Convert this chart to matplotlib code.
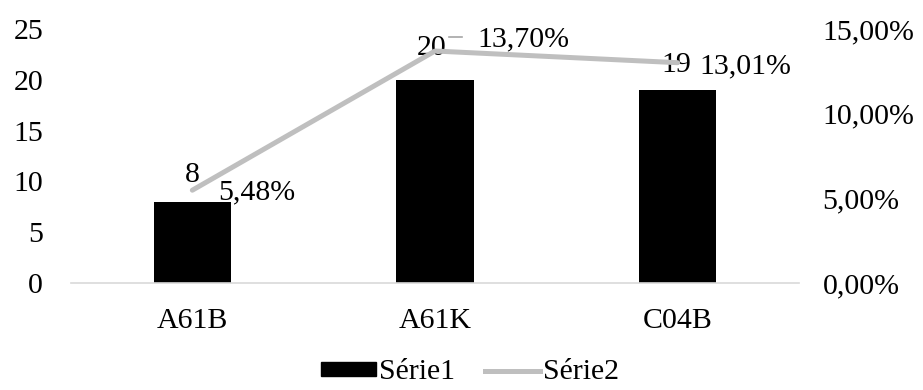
import matplotlib
matplotlib.use("Agg")
import matplotlib.pyplot as plt
from matplotlib.lines import Line2D
from matplotlib.patches import Patch
from matplotlib.ticker import FuncFormatter

# Data
categories = ["A61B", "A61K", "C04B"]
serie1 = [8, 20, 19]
serie2 = [5.48, 13.70, 13.01]  # percent
left_ticks = [0, 5, 10, 15, 20, 25]
right_ticks = [0, 5, 10, 15]

plt.rcParams["font.family"] = ["Liberation Serif", "DejaVu Serif"]
FS = 21.5
LINE_GREY = "#BFBFBF"

fig = plt.figure(figsize=(9.23, 3.90), dpi=100)
ax = fig.add_axes([71 / 923, 1 - 283 / 390, (799 - 71) / 923, (283 - 29) / 390])
ax2 = ax.twinx()

x = list(range(len(categories)))
ax.bar(x, serie1, width=0.32, color="black", zorder=2)
ax.set_xlim(-0.5, len(categories) - 0.5)
ax.set_ylim(0, 25)
ax.set_yticks(left_ticks)
ax.set_xticks(x)
ax.set_xticklabels(categories)

ax2.plot(x, serie2, color=LINE_GREY, lw=3.6, solid_capstyle="round", zorder=3)
ax2.set_ylim(0, 15)
ax2.set_yticks(right_ticks)
ax2.yaxis.set_major_formatter(FuncFormatter(lambda v, p: f"{v:.2f}%".replace(".", ",")))

for a in (ax, ax2):
    for s in a.spines.values():
        s.set_visible(False)
    a.tick_params(length=0, labelsize=FS, colors="black")
ax.spines["bottom"].set_visible(True)
ax.spines["bottom"].set_color("#D9D9D9")
ax.spines["bottom"].set_linewidth(1.2)
ax.tick_params(axis="y", pad=20)
ax.tick_params(axis="x", pad=18)
ax2.tick_params(axis="y", pad=17)

px = 0.72  # points per pixel at 100 dpi

# bar value labels
bar_offsets = [(0, 27), (-3, 32), (-1, 25)]
for xi, v, (dx, dy) in zip(x, serie1, bar_offsets):
    ax.annotate(f"{v}", (xi, v), xytext=(dx * px, dy * px), textcoords="offset points",
                ha="center", va="center", fontsize=FS, zorder=5)

# line value labels
line_offsets = [(26, -2), (42, 12), (22, -4)]
for xi, v, (dx, dy) in zip(x, serie2, line_offsets):
    ax2.annotate(f"{v:.2f}%".replace(".", ","), (xi, v), xytext=(dx * px, dy * px),
                 textcoords="offset points", ha="left", va="center", fontsize=FS, zorder=5)

# short leader dash next to the middle percentage label
fig.canvas.draw()
bx, by = ax2.transData.transform((x[1], serie2[1]))
fig.add_artist(Line2D([bx + 14, bx + 27], [by + 14, by + 14], color="#A6A6A6",
                      lw=1.2, transform=None))

handles = [Patch(facecolor="black", edgecolor="black"),
           Line2D([0], [0], color=LINE_GREY, lw=3.6)]
fig.legend(handles, ["Série1", "Série2"], loc="center", bbox_to_anchor=(0.509, 0.045),
           ncol=2, frameon=False, fontsize=FS, handlelength=1.84, handleheight=0.35,
           handletextpad=0.1, columnspacing=1.0, borderpad=0)

fig.savefig("out.png", dpi=100)
